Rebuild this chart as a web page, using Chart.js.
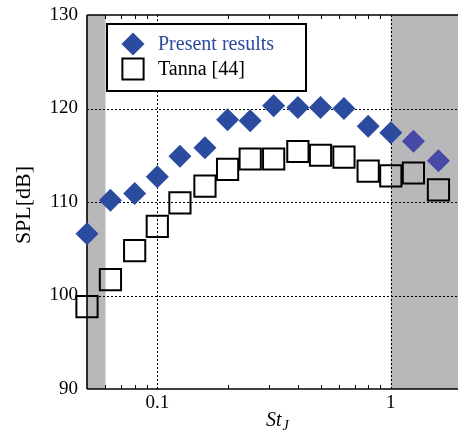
<!DOCTYPE html>
<html>
<head>
<meta charset="utf-8">
<script src="https://cdn.jsdelivr.net/npm/chart.js@4.4.1/dist/chart.umd.min.js"></script>
<style>
	html, body { margin: 0; padding: 0; background: #fff; overflow: hidden; }
	#wrap { width: 458px; height: 431px; position: relative; }
</style>
</head>
<body>
<div id="wrap"><canvas id="spl-chart"></canvas></div>
<script>
(function() {
	"use strict";

	// one-third octave Strouhal numbers
	var strouhal = [0.05, 0.063, 0.08, 0.1, 0.125, 0.16, 0.2, 0.25, 0.315, 0.4, 0.5, 0.63, 0.8, 1, 1.25, 1.6];
	var presentSpl = [106.6, 110.2, 110.9, 112.7, 114.9, 115.8, 118.8, 118.7, 120.3, 120.1, 120.1, 120.0, 118.1, 117.4, 116.5, 114.4];
	var tannaSpl = [98.8, 101.7, 104.8, 107.4, 109.9, 111.7, 113.5, 114.6, 114.6, 115.4, 115.0, 114.8, 113.3, 112.8, 113.1, 111.3];
	var seriesNames = ["Present results", "Tanna [44]"];

	var xMajorTicks = [0.1, 1];
	var xMinorTicks = [0.06, 0.07, 0.08, 0.09, 0.2, 0.3, 0.4, 0.5, 0.6, 0.7, 0.8, 0.9];
	var yTicks = [90, 100, 110, 120, 130];
	var yGridLines = [100, 110, 120];
	var shadedRanges = [[0.05, 0.06], [1, 1.94]];

	var SERIF = "'Liberation Serif', 'Times New Roman', serif";
	var BLUE = "#2b4b9f";
	var BLUE_SHADED = "#4749a6";

	function toPoints(xs, ys) {
		return xs.map(function(x, i) { return { x: x, y: ys[i] }; });
	}

	function inShade(x) {
		return shadedRanges.some(function(r) { return x > r[0] && x < r[1]; });
	}

	function line(ctx, x1, y1, x2, y2) {
		ctx.beginPath();
		ctx.moveTo(x1, y1);
		ctx.lineTo(x2, y2);
		ctx.stroke();
	}

	function noPadding(scale) {
		scale.paddingTop = 0;
		scale.paddingBottom = 0;
		scale.paddingLeft = 0;
		scale.paddingRight = 0;
	}

	var decorPlugin = {
		id: "decor",
		beforeDatasetsDraw: function(chart) {
			var ctx = chart.ctx, a = chart.chartArea;
			var xs = chart.scales.x, ys = chart.scales.y;
			ctx.save();

			// shaded bands
			ctx.fillStyle = "#b8b8ba";
			shadedRanges.forEach(function(r) {
				var x1 = xs.getPixelForValue(r[0]), x2 = xs.getPixelForValue(r[1]);
				ctx.fillRect(x1, a.top, x2 - x1, a.bottom - a.top);
			});

			// dotted grid
			ctx.strokeStyle = "#000";
			ctx.lineWidth = 1;
			ctx.setLineDash([2, 2]);
			xMajorTicks.forEach(function(v) {
				var px = Math.round(xs.getPixelForValue(v)) + 0.5;
				line(ctx, px, a.top, px, a.bottom);
			});
			yGridLines.forEach(function(v) {
				var py = Math.round(ys.getPixelForValue(v)) + 0.5;
				line(ctx, a.left, py, a.right, py);
			});
			ctx.setLineDash([]);

			// minor ticks, top and bottom, pointing in
			xMinorTicks.forEach(function(v) {
				var px = Math.round(xs.getPixelForValue(v)) + 0.5;
				line(ctx, px, a.bottom, px, a.bottom - 4);
				line(ctx, px, a.top, px, a.top + 4);
			});

			// frame (left, bottom, top)
			ctx.lineWidth = 1.6;
			line(ctx, a.left, a.top, a.left, a.bottom);
			line(ctx, a.left, a.bottom, a.right, a.bottom);
			line(ctx, a.left, a.top, a.right, a.top);
			ctx.restore();
		},
		afterDraw: function(chart) {
			var ctx = chart.ctx, a = chart.chartArea;
			ctx.save();

			// legend box
			var lx = a.left + 20, ly = a.top + 9, lw = 199, lh = 67;
			ctx.fillStyle = "#fff";
			ctx.fillRect(lx, ly, lw, lh);
			ctx.strokeStyle = "#000";
			ctx.lineWidth = 2;
			ctx.strokeRect(lx, ly, lw, lh);

			var rows = [ly + 20, ly + 45];
			chart.data.datasets.forEach(function(ds, i) {
				var el = chart.getDatasetMeta(i).data[0];
				var o = el.options;
				ctx.save();
				ctx.fillStyle = o.backgroundColor;
				ctx.strokeStyle = o.borderColor;
				ctx.lineWidth = o.borderWidth;
				Chart.helpers.drawPoint(ctx, {
					pointStyle: o.pointStyle,
					radius: o.radius,
					borderWidth: o.borderWidth,
					rotation: 0
				}, lx + 26, rows[i]);
				ctx.restore();
				ctx.font = "20px " + SERIF;
				ctx.textBaseline = "middle";
				ctx.textAlign = "left";
				ctx.fillStyle = i === 0 ? BLUE : "#000";
				ctx.fillText(ds.label, lx + 51, rows[i] + 1);
			});

			// y axis title
			ctx.fillStyle = "#000";
			ctx.save();
			ctx.translate(24, (a.top + a.bottom) / 2 + 3);
			ctx.rotate(-Math.PI / 2);
			ctx.font = "22px " + SERIF;
			ctx.textAlign = "center";
			ctx.textBaseline = "middle";
			ctx.fillText("SPL[dB]", 0, 0);
			ctx.restore();

			// x axis title St_J
			ctx.font = "italic 20px " + SERIF;
			ctx.textAlign = "left";
			ctx.textBaseline = "alphabetic";
			var sx = 266;
			ctx.fillText("St", sx, 426);
			var w = ctx.measureText("St").width;
			ctx.font = "italic 14px " + SERIF;
			ctx.fillText("J", sx + w + 1, 430);
			ctx.restore();
		}
	};

	document.addEventListener("DOMContentLoaded", function() {
		var ctx = document.getElementById("spl-chart").getContext("2d");

		var diamondColor = function(c) {
			return c.raw && inShade(c.raw.x) ? BLUE_SHADED : BLUE;
		};

		new Chart(ctx, {
			type: "scatter",
			data: {
				datasets: [{
					label: seriesNames[0],
					data: toPoints(strouhal, presentSpl),
					pointStyle: "rectRot",
					radius: 11.5,
					hoverRadius: 11.5,
					backgroundColor: diamondColor,
					borderColor: diamondColor,
					borderWidth: 0,
					showLine: false,
					clip: false
				},
				{
					label: seriesNames[1],
					data: toPoints(strouhal, tannaSpl),
					pointStyle: "rect",
					radius: 15,
					hoverRadius: 15,
					backgroundColor: "rgba(0,0,0,0)",
					borderColor: "#000",
					borderWidth: 2,
					showLine: false,
					clip: false
				}]
			},
			options: {
				responsive: true,
				maintainAspectRatio: false,
				animation: false,
				events: [],
				layout: {
					autoPadding: false,
					padding: { top: 15, left: 0, right: 0, bottom: 0 }
				},
				plugins: {
					legend: { display: false },
					tooltip: { enabled: false }
				},
				scales: {
					x: {
						type: "logarithmic",
						position: "bottom",
						min: 0.05,
						max: 1.94,
						afterBuildTicks: function(scale) {
							scale.ticks = xMajorTicks.map(function(v) { return { value: v }; });
						},
						afterFit: function(scale) {
							scale.height = 42;
							noPadding(scale);
						},
						grid: { display: false, drawTicks: false },
						border: { display: false },
						ticks: {
							font: { family: SERIF, size: 19 },
							color: "#000",
							padding: 3,
							maxRotation: 0,
							autoSkip: false,
							callback: function(v) { return String(v); }
						}
					},
					y: {
						min: 90,
						max: 130,
						afterBuildTicks: function(scale) {
							scale.ticks = yTicks.map(function(v) { return { value: v }; });
						},
						afterFit: function(scale) {
							scale.width = 87;
							noPadding(scale);
						},
						grid: { display: false, drawTicks: false },
						border: { display: false },
						ticks: {
							font: { family: SERIF, size: 19 },
							color: "#000",
							padding: 9
						}
					}
				}
			},
			plugins: [decorPlugin]
		});
	});
}) ();
</script>
</body>
</html>
